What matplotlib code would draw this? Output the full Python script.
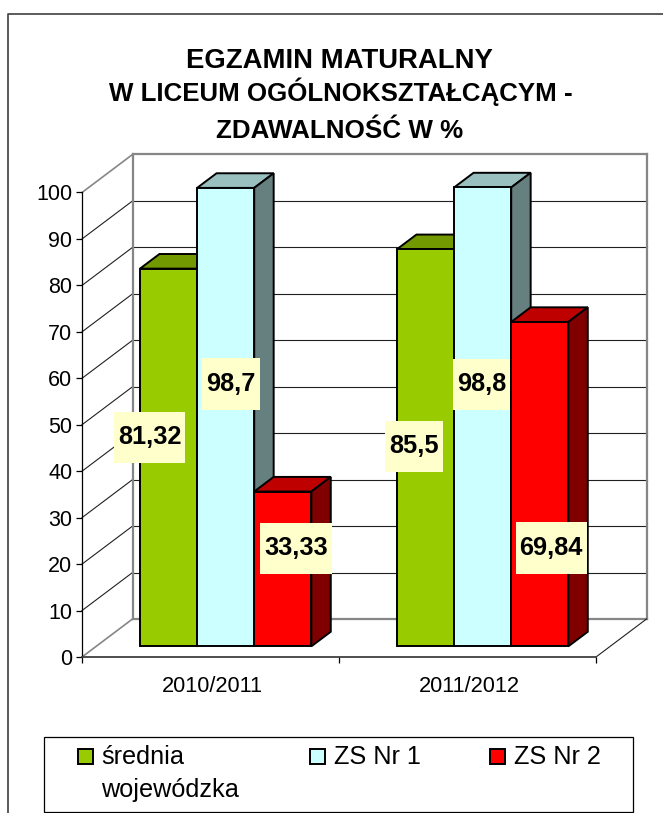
import matplotlib
matplotlib.use('Agg')
import matplotlib.pyplot as plt
from matplotlib.patches import Polygon, Rectangle

plt.rcParams['font.family'] = ['Liberation Sans', 'DejaVu Sans']

years = ['2010/2011', '2011/2012']
series = ['średnia\nwojewódzka', 'ZS Nr 1', 'ZS Nr 2']
srednia = [81.32, 85.5]
zs1 = [98.7, 98.8]
zs2 = [33.33, 69.84]
yticks = [0, 10, 20, 30, 40, 50, 60, 70, 80, 90, 100]

# front / top / side colours of each series
colors = [('#99CC00', '#739900', '#668000'),
          ('#CCFFFF', '#99BFBF', '#668080'),
          ('#FF0000', '#BF0000', '#800000')]
# where the yellow value boxes sit, pixels away from the bar centre
label_shift = [[(-19, 20), (-11.5, 1.4)],
               [(5.3, 33), (-1, 32.5)],
               [(13, 20.6), (11.5, -64)]]

W, H = 663, 813
fig = plt.figure(figsize=(W / 100, H / 100), dpi=100)

# page frame, title and legend in pixel coordinates
bg = fig.add_axes([0, 0, 1, 1])
bg.set_xlim(0, W)
bg.set_ylim(H, 0)
bg.axis('off')
bg.plot([8, 8, W], [H, 14, 14], color='#404040', lw=1.2, clip_on=False)
bg.text(339.5, 68, 'EGZAMIN MATURALNY', fontsize=19.8, fontweight='bold', ha='center', va='baseline')
bg.text(340.5, 101.5, 'W LICEUM OGÓLNOKSZTAŁCĄCYM -', fontsize=18.6, fontweight='bold', ha='center', va='baseline')
bg.text(340, 138, 'ZDAWALNOŚĆ W %', fontsize=18.7, fontweight='bold', ha='center', va='baseline')

bg.add_patch(Rectangle((44, 736.5), 589, 75, fc='white', ec='black', lw=0.9))
legend_x = [77.5, 310, 490]
for name, col, lx in zip(series, colors, legend_x):
    bg.add_patch(Rectangle((lx, 749), 15, 15, fc=col[0], ec='black', lw=1.4))
    parts = name.split('\n')
    for i, part in enumerate(parts):
        bg.text(lx + 23.5, 764 + 33 * i, part, fontsize=18.2, va='baseline', ha='left')

# plot area = front plane of the 3D box
left, right, bottom, top = 82, 596, 657, 192.5
ax = fig.add_axes([left / W, 1 - bottom / H, (right - left) / W, (bottom - top) / H])
ax.set_xlim(0, 2)
ax.set_ylim(0, 100)
ax.patch.set_visible(False)
px_x = (right - left) / 2
px_y = (bottom - top) / 100
wall_dx = 50.5 / px_x
wall_dy = 38 / px_y

gray = '#868686'
for v in yticks:
    edge = v in (0, 100)
    ax.plot([0, wall_dx], [v, v + wall_dy], color=gray if edge else '#202020', lw=1.2 if edge else 0.8,
            clip_on=False, zorder=1)
    ax.plot([wall_dx, 2 + wall_dx], [v + wall_dy, v + wall_dy], color=gray if edge else '#202020',
            lw=1.6 if edge else 0.8, clip_on=False, zorder=1)
for x in (wall_dx, 2 + wall_dx):
    ax.plot([x, x], [wall_dy, 100 + wall_dy], color=gray, lw=1.6, clip_on=False, zorder=1)
ax.plot([2, 2 + wall_dx], [0, wall_dy], color='#202020', lw=0.8, clip_on=False, zorder=1)

# bars
bar_w = 2 / 9
base = 0.28
depth = 0.385
nudge = 0.004
z = 3
for s, values in enumerate([srednia, zs1, zs2]):
    for g, val in enumerate(values):
        x0 = g + 1 / 6 + s * bar_w + base * wall_dx + nudge
        x1 = x0 + bar_w
        y0 = base * wall_dy
        y1 = y0 + val
        dx = depth * wall_dx
        dy = depth * wall_dy
        front, upper, side = colors[s]
        ax.add_patch(Polygon([(x0, y1), (x1, y1), (x1 + dx, y1 + dy), (x0 + dx, y1 + dy)], fc=upper, ec='black', lw=1.4, clip_on=False, zorder=z))
        ax.add_patch(Polygon([(x1, y0), (x1 + dx, y0 + dy), (x1 + dx, y1 + dy), (x1, y1)], fc=side, ec='black', lw=1.4, clip_on=False, zorder=z))
        ax.add_patch(Polygon([(x0, y0), (x1, y0), (x1, y1), (x0, y1)], fc=front, ec='black', lw=1.4, clip_on=False, zorder=z))
        z += 1

# value boxes on top of everything
for s, values in enumerate([srednia, zs1, zs2]):
    for g, val in enumerate(values):
        xc = g + 1 / 6 + (s + 0.5) * bar_w + base * wall_dx + nudge
        yc = base * wall_dy + val / 2
        ax.annotate(f'{val:g}'.replace('.', ','), xy=(xc, yc), xytext=label_shift[s][g],
                    textcoords='offset pixels', ha='center', va='center', fontsize=18.3,
                    fontweight='bold', color='black', zorder=50, annotation_clip=False,
                    bbox=dict(boxstyle='square,pad=0.16', fc='#FFFFCC', ec='none', mutation_aspect=3.4))

# axes
for name in ('top', 'right'):
    ax.spines[name].set_visible(False)
ax.spines['left'].set_linewidth(0.9)
ax.spines['bottom'].set_color('#404040')
ax.spines['bottom'].set_linewidth(1.3)
ax.set_yticks(yticks)
ax.tick_params(axis='y', length=4.5, width=0.9, labelsize=15.5, pad=2.5)
ax.set_xticks([0, 1, 2])
ax.set_xticklabels([])
ax.tick_params(axis='x', which='major', length=4.5, width=0.9)
ax.get_xticklines()[4].set_color(gray)
ax.set_xticks([0.508, 1.508], years, minor=True)
ax.tick_params(axis='x', which='minor', length=0, labelsize=15.7, pad=13.5)

fig.savefig('out.png', dpi=100, facecolor='white')
